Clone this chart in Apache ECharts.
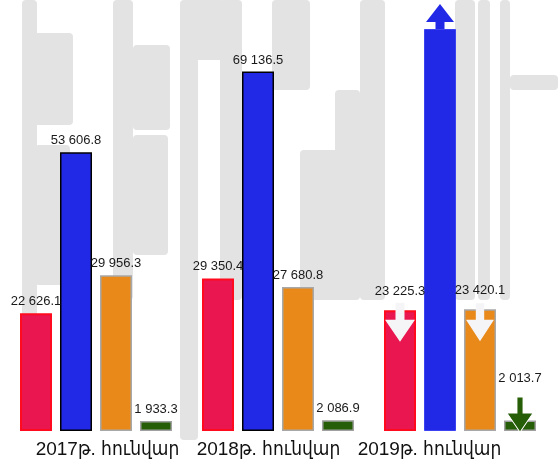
<!DOCTYPE html>
<html>
<head>
<meta charset="utf-8">
<script src="https://cdn.jsdelivr.net/npm/echarts@6/dist/echarts.min.js"></script>
<style>html,body{margin:0;padding:0;background:#fff}#c{width:558px;height:469px}</style>
</head>
<body>
<div id="c"></div>
<script>
const categories = ['2017թ. հունվար', '2018թ. հունվար', '2019թ. հունվար'];
const redValues = [22626.1, 29350.4, 23225.3];
const blueValues = [53606.8, 69136.5, 77300];
const orangeValues = [29956.3, 27680.8, 23420.1];
const greenValues = [1933.3, 2086.9, 2013.7];

// decorative watermark blocks [x, y, w, h]
const bgBlocks = [
  [22, 0, 15, 430], [33, 33, 40, 92], [35, 145, 35, 140],
  [113, 0, 20, 300], [133, 45, 37, 85], [133, 135, 35, 120],
  [180, 0, 18, 440], [187, 0, 38, 60], [220, 0, 22, 300],
  [272, 0, 38, 90], [300, 150, 45, 150], [335, 90, 25, 210], [360, 0, 20, 300],
  [370, 0, 15, 300], [455, 0, 20, 300], [478, 0, 12, 300], [500, 0, 10, 300],
  [510, 75, 48, 15]
];

function fmt(v) {
  const parts = v.toFixed(1).split('.');
  return parts[0].replace(/\B(?=(\d{3})+(?!\d))/g, ' ') + '.' + parts[1];
}

const downArrow = 'path://M10.5,0 H19.5 V17 H30 L15,39 L0,17 H10.5 Z';
const upArrow = 'path://M14,0 L28,18 H18.5 V25 H9.5 V18 H0 Z';

const labelFont = "'Liberation Sans','DejaVu Sans Condensed',sans-serif";

function mkData(values, extra) {
  return values.map((v, i) => Object.assign({ value: v }, extra[i] || {}));
}

const chart = echarts.init(document.getElementById('c'), null, { renderer: 'canvas' });

const baseLabel = {
  show: true, position: 'top', distance: 5,
  fontFamily: labelFont, fontSize: 13, color: '#1a1a1a',
  formatter: p => fmt(p.value)
};

chart.setOption({
  animation: false,
  backgroundColor: '#ffffff',
  graphic: bgBlocks.map(b => ({
    type: 'rect', silent: true, z: -10,
    shape: { x: b[0], y: b[1], width: b[2], height: b[3], r: 4 },
    style: { fill: '#e3e3e3' }
  })),
  grid: [
    { left: 5, right: 7, top: 15, bottom: 38 },
    { left: 27, right: 48, top: 15, bottom: 38 }
  ],
  xAxis: [
    { type: 'category', gridIndex: 0, data: categories,
      axisLine: { show: false }, axisTick: { show: false }, axisLabel: { show: false } },
    { type: 'category', gridIndex: 1, data: categories,
      axisLine: { show: false }, axisTick: { show: false },
      axisLabel: { interval: 0, margin: 9, fontSize: 19, color: '#111', fontFamily: labelFont } }
  ],
  yAxis: [
    { type: 'value', gridIndex: 0, min: 0, max: 80000, show: false, splitLine: { show: false } },
    { type: 'value', gridIndex: 1, min: 0, max: 80000, show: false, splitLine: { show: false } }
  ],
  series: [
    {
      name: 'red', type: 'bar', barWidth: 32, barGap: '25%',
      data: mkData(redValues, { 2: { label: { distance: 12 } } }),
      itemStyle: { color: '#e91650', borderColor: '#ff0a1e', borderWidth: 2 },
      label: baseLabel,
      markPoint: {
        silent: true, label: { show: false },
        data: [{ coord: [2, redValues[2]], symbol: downArrow, symbolSize: [30, 39],
                 symbolOffset: [0, 12], itemStyle: { color: '#f5f5f7' } }]
      }
    },
    {
      name: 'blue', type: 'bar', barWidth: 32, barGap: '25%',
      data: mkData(blueValues, { 2: { label: { show: false }, itemStyle: { borderColor: '#3b42f2', borderWidth: 1 } } }),
      itemStyle: { color: '#2229e6', borderColor: '#000000', borderWidth: 1.5 },
      label: baseLabel,
      markPoint: {
        silent: true, label: { show: false },
        data: [{ coord: [2, blueValues[2]], symbol: upArrow, symbolSize: [28, 25],
                 symbolOffset: [0, -12.5], itemStyle: { color: '#2229e6' } }]
      }
    },
    {
      name: 'orange', type: 'bar', barWidth: 32, barGap: '25%',
      data: mkData(orangeValues, { 2: { label: { distance: 12 } } }),
      itemStyle: { color: '#e8891a', borderColor: '#a8a8a8', borderWidth: 1.5 },
      label: baseLabel,
      markPoint: {
        silent: true, label: { show: false },
        data: [{ coord: [2, orangeValues[2]], symbol: downArrow, symbolSize: [28, 38],
                 symbolOffset: [0, 13], itemStyle: { color: '#f5f5f7' } }]
      }
    },
    {
      name: 'green', type: 'bar', barWidth: 32, barGap: '25%',
      data: mkData(greenValues, { 2: { label: { distance: 36 } } }),
      itemStyle: { color: '#265e07', borderColor: '#a0a0a0', borderWidth: 1.5 },
      label: baseLabel,
      markPoint: {
        silent: true, label: { show: false },
        data: [{ coord: [2, greenValues[2]], symbol: 'path://M10,0 H16 V16 H26 L13,35 L0,16 H10 Z',
                 symbolSize: [26, 35], symbolOffset: [0, -6],
                 itemStyle: { color: '#265e07', borderColor: '#ffffff', borderWidth: 1 } }]
      }
    }
  ]
});
</script>
</body>
</html>
